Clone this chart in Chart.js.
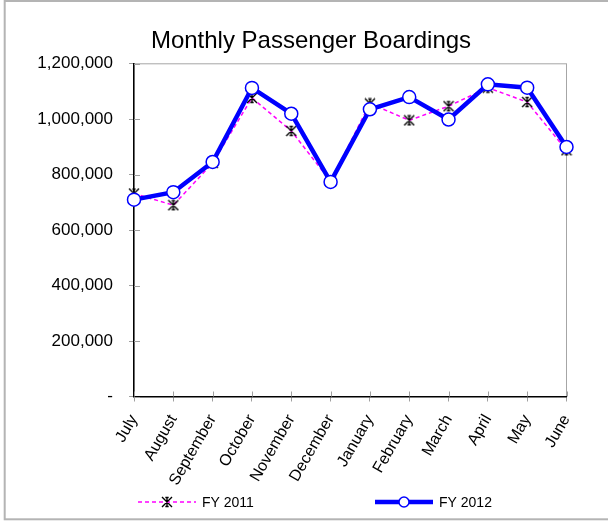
<!DOCTYPE html>
<html>
<head>
<meta charset="utf-8">
<title>Monthly Passenger Boardings</title>
<script src="https://cdn.jsdelivr.net/npm/chart.js@4/dist/chart.umd.min.js"></script>
<style>
  html, body { margin: 0; padding: 0; background: #fff; }
  #wrap { width: 608px; height: 521px; }
</style>
</head>
<body>
<div id="wrap"><canvas id="boardingsChart" width="608" height="521"></canvas></div>
<script>
// Data
const months = ["July", "August", "September", "October", "November", "December",
                "January", "February", "March", "April", "May", "June"];
const fy2011 = [732000, 690000, 842000, 1077000, 958000, 776000,
                1057000, 996000, 1047000, 1114000, 1062000, 888000];
const fy2012 = [710000, 737000, 846000, 1113000, 1020000, 774000,
                1036000, 1080000, 999000, 1126000, 1114000, 900000];
const yTickValues = [0, 200000, 400000, 600000, 800000, 1000000, 1200000];

const FONT = '"Liberation Sans", Arial, sans-serif';
const LEFT_PAD = 20;
const RIGHT_PAD = 6;

// Excel-like star marker (X + vertical bar + short caps)
function makeStar(size) {
    const c = document.createElement('canvas');
    c.width = size;
    c.height = size;
    const g = c.getContext('2d');
    const m = size / 2;
    const r = size / 2 - 1;
    g.strokeStyle = '#000';
    g.lineWidth = 1.4;
    g.beginPath();
    g.moveTo(m - r, m - r); g.lineTo(m + r, m + r);
    g.moveTo(m + r, m - r); g.lineTo(m - r, m + r);
    g.moveTo(m, m - r); g.lineTo(m, m + r);
    g.moveTo(m - r / 3, m - r + 0.5); g.lineTo(m + r / 3, m - r + 0.5);
    g.moveTo(m - r / 3, m + r - 0.5); g.lineTo(m + r / 3, m + r - 0.5);
    g.stroke();
    return c;
}
const starMarker = makeStar(12);

// outer frame, plot-area border and inward tick stubs
const framePlugin = {
    id: 'frame',
    beforeDraw(chart) {
        const ctx = chart.ctx;
        const a = chart.chartArea;
        ctx.save();
        ctx.fillStyle = '#fff';
        ctx.fillRect(0, 0, chart.width, chart.height);
        ctx.strokeStyle = '#b4b4b4';
        ctx.lineWidth = 2;
        ctx.strokeRect(4.7, 1, chart.width + 10, chart.height - 2.7);
        ctx.strokeStyle = '#a6a6a6';
        ctx.lineWidth = 1;
        ctx.strokeRect(a.left, a.top, a.right - a.left, a.bottom - a.top);
        ctx.restore();
    },
    beforeDatasetsDraw(chart) {
        const ctx = chart.ctx;
        const a = chart.chartArea;
        const xs = chart.scales.x;
        const ys = chart.scales.y;
        ctx.save();
        ctx.strokeStyle = '#a0a0a0';
        ctx.lineWidth = 1;
        ctx.beginPath();
        ys.ticks.forEach(t => {
            const y = Math.round(ys.getPixelForValue(t.value)) + 0.5;
            ctx.moveTo(a.left, y);
            ctx.lineTo(a.left + 6, y);
        });
        xs.ticks.forEach((t, i) => {
            const x = Math.round(xs.getPixelForTick(i)) + 0.5;
            ctx.moveTo(x, a.bottom);
            ctx.lineTo(x, a.bottom - 5);
        });
        ctx.stroke();
        ctx.restore();
    }
};

// legend drawn as line + marker + label, like the spreadsheet legend
const lineLegend = {
    id: 'lineLegend',
    afterDraw(chart) {
        const ctx = chart.ctx;
        const a = chart.chartArea;
        const y = chart.height - 19;
        const starts = [a.left + 4, a.left + 241];
        chart.data.datasets.forEach((ds, i) => {
            const x = starts[i];
            const cx = x + 29;
            ctx.save();
            ctx.strokeStyle = ds.borderColor;
            ctx.lineWidth = ds.borderWidth;
            ctx.setLineDash(ds.borderDash || []);
            ctx.beginPath();
            ctx.moveTo(x, y);
            ctx.lineTo(x + 58, y);
            ctx.stroke();
            ctx.setLineDash([]);
            if (ds.pointStyle instanceof HTMLCanvasElement) {
                ctx.drawImage(ds.pointStyle, cx - ds.pointStyle.width / 2, y - ds.pointStyle.height / 2);
            } else {
                ctx.beginPath();
                ctx.arc(cx, y, 5, 0, Math.PI * 2);
                ctx.fillStyle = ds.pointBackgroundColor;
                ctx.fill();
                ctx.lineWidth = ds.pointBorderWidth;
                ctx.strokeStyle = ds.pointBorderColor;
                ctx.stroke();
            }
            ctx.fillStyle = '#000';
            ctx.font = '14px ' + FONT;
            ctx.textBaseline = 'middle';
            ctx.textAlign = 'left';
            ctx.fillText(ds.label, x + 64, y + 1);
            ctx.restore();
        });
    }
};

const ctx = document.getElementById('boardingsChart').getContext('2d');

new Chart(ctx, {
    type: 'line',
    data: {
        labels: months,
        datasets: [
            {
                label: 'FY 2011',
                data: fy2011,
                borderColor: '#FF00FF',
                borderWidth: 1.5,
                borderDash: [4, 3],
                pointStyle: starMarker,
                pointRadius: 6,
                tension: 0,
                order: 2
            },
            {
                label: 'FY 2012',
                data: fy2012,
                borderColor: '#0000FF',
                borderWidth: 4.5,
                pointStyle: 'circle',
                pointRadius: 6.5,
                pointBackgroundColor: '#ffffff',
                pointBorderColor: '#0000FF',
                pointBorderWidth: 1.5,
                tension: 0,
                order: 1
            }
        ]
    },
    options: {
        responsive: false,
        animation: false,
        events: [],
        layout: {
            padding: { top: 14, left: LEFT_PAD, right: RIGHT_PAD, bottom: 0 }
        },
        plugins: {
            legend: { display: false },
            tooltip: { enabled: false },
            title: {
                display: true,
                text: 'Monthly Passenger Boardings',
                color: '#000',
                font: { family: FONT, size: 24, weight: 'normal' },
                padding: { top: 13, bottom: 8 }
            }
        },
        scales: {
            x: {
                offset: false,
                grid: { drawOnChartArea: false, drawTicks: true, tickLength: 5, color: '#a0a0a0' },
                border: { color: '#000', width: 1.5 },
                ticks: {
                    autoSkip: false,
                    minRotation: 60,
                    maxRotation: 60,
                    padding: 10,
                    color: '#000',
                    font: { family: FONT, size: 16 }
                },
                afterFit(scale) {
                    scale.height = 124.5;
                }
            },
            y: {
                min: 0,
                max: 1200000,
                grid: { drawOnChartArea: false, drawTicks: true, tickLength: 5, color: '#a0a0a0' },
                border: { color: '#000', width: 1.5 },
                afterBuildTicks(scale) {
                    scale.ticks = yTickValues.map(v => ({ value: v }));
                },
                ticks: {
                    padding: 16,
                    color: '#000',
                    font: { family: FONT, size: 17 },
                    callback: function (value) {
                        return value === 0 ? '-' : value.toLocaleString('en-US');
                    }
                },
                afterFit(scale) {
                    scale.width = 134 - LEFT_PAD;
                }
            },
            // empty right-hand box that keeps the plot area clear of the right edge
            yRight: {
                position: 'right',
                min: 0,
                max: 1,
                grid: { display: false },
                border: { display: false },
                ticks: { display: false },
                afterFit(scale) {
                    scale.width = 608 - RIGHT_PAD - 566.5;
                }
            }
        }
    },
    plugins: [framePlugin, lineLegend]
});
</script>
</body>
</html>
